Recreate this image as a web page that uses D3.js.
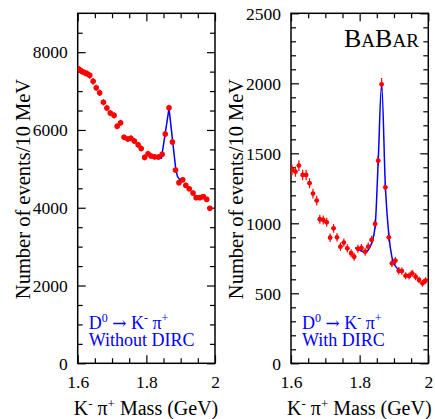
<!DOCTYPE html>
<html>
<head>
<meta charset="utf-8">
<script src="https://cdn.jsdelivr.net/npm/d3@7"></script>
<style>
  html, body { margin: 0; padding: 0; background: #fff; }
  svg { display: block; }
  text { font-family: "Liberation Serif", "Times New Roman", serif; }
</style>
</head>
<body>
<script>
// K- pi+ invariant mass spectra, without and with DIRC kaon identification

// Without DIRC: bin centres (GeV) and counts per 10 MeV
const noDircMass = [1.604,1.613,1.621,1.628,1.635,1.645,1.654,1.664,1.675,1.685,
  1.695,1.706,1.715,1.725,1.735,1.746,1.755,1.765,1.776,1.785,
  1.795,1.805,1.814,1.824,1.835,1.846,1.855,1.866,1.876,1.885,
  1.895,1.906,1.915,1.925,1.936,1.945,1.956,1.966,1.976,1.985];
const noDircCounts = [7560,7505,7470,7445,7405,7250,7085,6955,6710,6565,
  6435,6375,6095,6185,5810,5765,5785,5715,5620,5525,
  5295,5390,5330,5310,5305,5375,5895,6570,5690,4970,
  4645,4720,4575,4490,4380,4260,4260,4285,4215,3985];
const noDircErr = [87,87,86,86,86,85,84,83,82,81,
  80,80,78,79,76,76,76,76,75,74,
  73,73,73,73,73,73,77,81,75,70,
  68,69,68,67,66,65,65,65,65,63];
// Fitted signal + background, without DIRC
const noDircFitMass = [1.805, 1.844, 1.866, 1.886, 1.891, 1.903];
const noDircFitCounts = [5390, 5270, 6555, 4970, 4800, 4655];

// With DIRC: bin centres (GeV) and counts per 10 MeV
const dircMass = [1.603,1.613,1.623,1.634,1.644,1.654,1.664,1.675,1.684,1.694,
  1.704,1.714,1.724,1.734,1.744,1.754,1.764,1.775,1.784,1.795,
  1.805,1.816,1.825,1.835,1.845,1.854,1.864,1.875,1.885,1.894,
  1.904,1.914,1.923,1.934,1.944,1.953,1.963,1.973,1.983,1.992];
const dircCounts = [1381,1369,1412,1345,1345,1286,1212,1162,1029,1024,
  1007,897,964,900,833,862,821,786,761,818,
  824,797,833,881,995,1447,1993,1257,900,714,
  733,661,659,626,624,643,619,595,571,590];
const dircErr = [37,37,38,37,37,36,35,34,32,32,
  32,30,31,30,29,29,29,28,28,29,
  29,28,29,30,32,38,45,35,30,27,
  27,26,26,25,25,25,25,24,24,24];
// Fitted signal + background, with DIRC
const dircFitMass = [1.787, 1.796, 1.806, 1.816, 1.825, 1.835, 1.845, 1.854, 1.864, 1.875, 1.885, 1.894, 1.904, 1.916];
const dircFitCounts = [826, 814, 802, 790, 809, 859, 974, 1440, 1995, 1259, 916, 759, 695, 666];

// Axis ticks
const massTicks = [1.6, 1.8, 2.0];
const massTickLabels = ["1.6", "1.8", "2"];
const noDircYTicks = [0, 2000, 4000, 6000, 8000];
const dircYTicks = [0, 500, 1000, 1500, 2000, 2500];

const W = 435, H = 419;
const frameTop = 13.3, frameBottom = 363.3;
const RED = "#ff0000", BLUE = "#0000ff";

const svg = d3.select("body").append("svg")
  .attr("width", W).attr("height", H);

const panels = [
  { x0: 77.7, x1: 215, yMax: 9000, yMinorStep: 500, yTicks: noDircYTicks,
    mass: noDircMass, counts: noDircCounts, err: noDircErr,
    fitMass: noDircFitMass, fitCounts: noDircFitCounts, curve: d3.curveLinear,
    r: 2.8, label: "Without DIRC", logo: false },
  { x0: 291, x1: 428.3, yMax: 2500, yMinorStep: 100, yTicks: dircYTicks,
    mass: dircMass, counts: dircCounts, err: dircErr,
    fitMass: dircFitMass, fitCounts: dircFitCounts, curve: d3.curveMonotoneX,
    r: 2.4, label: "With DIRC", logo: true }
];

panels.forEach((p, idx) => {
  const x = d3.scaleLinear().domain([1.6, 2.0]).range([p.x0, p.x1]);
  const y = d3.scaleLinear().domain([0, p.yMax]).range([frameBottom, frameTop]);
  const g = svg.append("g");
  const clipId = "clip" + idx;
  svg.append("clipPath").attr("id", clipId).append("rect")
    .attr("x", p.x0).attr("y", frameTop).attr("width", p.x1 - p.x0).attr("height", frameBottom - frameTop);

  const minorX = d3.range(1.6, 2.0001, 0.05).filter(v => !massTicks.some(t => Math.abs(t - v) < 1e-6));
  const minorY = d3.range(0, p.yMax + 1, p.yMinorStep).filter(v => !p.yTicks.includes(v) && v !== p.yMax);

  function styleAxis(sel) {
    sel.select(".domain").remove();
    sel.selectAll("line").attr("stroke", "#000").attr("stroke-width", 1.2);
  }

  // bottom: labelled major ticks
  const bx = g.append("g").attr("transform", `translate(0,${frameBottom})`)
    .call(d3.axisBottom(x).tickValues(massTicks).tickSize(-8)
      .tickFormat((d, i) => massTickLabels[i]));
  styleAxis(bx);
  bx.selectAll("text").attr("y", 24.5).attr("dy", null)
    .attr("font-size", 17.5).attr("fill", "#000").style("font-family", "Liberation Serif");
  g.append("g").attr("transform", `translate(0,${frameBottom})`)
    .call(d3.axisBottom(x).tickValues(minorX).tickSize(-5).tickFormat(""))
    .call(styleAxis);
  // top ticks
  g.append("g").attr("transform", `translate(0,${frameTop})`)
    .call(d3.axisTop(x).tickValues(massTicks).tickSize(-8).tickFormat(""))
    .call(styleAxis);
  g.append("g").attr("transform", `translate(0,${frameTop})`)
    .call(d3.axisTop(x).tickValues(minorX).tickSize(-5).tickFormat(""))
    .call(styleAxis);

  // left: labelled major ticks
  const ly = g.append("g").attr("transform", `translate(${p.x0},0)`)
    .call(d3.axisLeft(y).tickValues(p.yTicks).tickSize(-8).tickPadding(10).tickFormat(d3.format("d")));
  styleAxis(ly);
  ly.selectAll("text").attr("font-size", 17.5).attr("fill", "#000")
    .attr("dy", "0.33em").style("font-family", "Liberation Serif");
  g.append("g").attr("transform", `translate(${p.x0},0)`)
    .call(d3.axisLeft(y).tickValues(minorY).tickSize(-5).tickFormat(""))
    .call(styleAxis);
  // right ticks
  g.append("g").attr("transform", `translate(${p.x1},0)`)
    .call(d3.axisRight(y).tickValues(p.yTicks).tickSize(-8).tickFormat(""))
    .call(styleAxis);
  g.append("g").attr("transform", `translate(${p.x1},0)`)
    .call(d3.axisRight(y).tickValues(minorY).tickSize(-5).tickFormat(""))
    .call(styleAxis);

  // frame
  g.append("rect").attr("x", p.x0).attr("y", frameTop)
    .attr("width", p.x1 - p.x0).attr("height", frameBottom - frameTop)
    .attr("fill", "none").attr("stroke", "#000").attr("stroke-width", 1.5);

  const plot = g.append("g").attr("clip-path", `url(#${clipId})`);
  const pts = p.mass.map((m, i) => ({ m, c: p.counts[i], e: p.err[i] }));

  // error bars
  plot.selectAll("line.ev").data(pts).join("line").attr("class", "ev")
    .attr("x1", d => x(d.m)).attr("x2", d => x(d.m))
    .attr("y1", d => y(d.c - d.e)).attr("y2", d => y(d.c + d.e))
    .attr("stroke", RED).attr("stroke-width", 1.2);
  plot.selectAll("line.eh").data(pts).join("line").attr("class", "eh")
    .attr("x1", d => x(d.m - 0.006)).attr("x2", d => x(d.m + 0.006))
    .attr("y1", d => y(d.c)).attr("y2", d => y(d.c))
    .attr("stroke", RED).attr("stroke-width", 1.2);

  // fit curve
  const fit = p.fitMass.map((m, i) => [m, p.fitCounts[i]]);
  plot.append("path").datum(fit)
    .attr("d", d3.line().x(d => x(d[0])).y(d => y(d[1])).curve(p.curve))
    .attr("fill", "none").attr("stroke", BLUE).attr("stroke-width", 1.5);

  // data points
  plot.selectAll("circle").data(pts).join("circle")
    .attr("cx", d => x(d.m)).attr("cy", d => y(d.c)).attr("r", p.r)
    .attr("fill", RED);

  // y-axis title
  svg.append("text")
    .attr("transform", `translate(${p.x0 - 48},189) rotate(-90)`)
    .attr("text-anchor", "middle").attr("font-size", 20.5).attr("fill", "#000")
    .text("Number of events/10 MeV");

  // x-axis title
  const xt = svg.append("text").attr("x", p.x0 - 4).attr("y", 414.5)
    .attr("font-size", 20).attr("fill", "#000");
  xt.append("tspan").text("K");
  xt.append("tspan").attr("font-size", 13).attr("dy", -7).text("-");
  xt.append("tspan").attr("dy", 7).text(" π");
  xt.append("tspan").attr("font-size", 13).attr("dy", -7).text("+");
  xt.append("tspan").attr("dy", 7).text(" Mass (GeV)");

  // decay channel annotation
  const a1 = svg.append("text").attr("x", p.x0 + 11).attr("y", 328.5)
    .attr("font-size", 18).attr("fill", BLUE);
  a1.append("tspan").text("D");
  a1.append("tspan").attr("font-size", 12).attr("dy", -7).text("0");
  a1.append("tspan").attr("dy", 7).text(" ");
  a1.append("tspan").style("font-family", "DejaVu Serif").attr("font-size", 17).text("→");
  a1.append("tspan").text(" K");
  a1.append("tspan").attr("font-size", 12).attr("dy", -7).text("-");
  a1.append("tspan").attr("dy", 7).text(" π");
  a1.append("tspan").attr("font-size", 12).attr("dy", -7).text("+");
  svg.append("text").attr("x", p.x0 + 11).attr("y", 346)
    .attr("font-size", 18).attr("fill", BLUE).text(p.label);

  if (p.logo) {
    const lg = svg.append("text").attr("x", 344).attr("y", 47.3).attr("fill", "#000");
    lg.append("tspan").attr("font-size", 26).text("B");
    lg.append("tspan").attr("font-size", 19).text("A");
    lg.append("tspan").attr("font-size", 26).text("B");
    lg.append("tspan").attr("font-size", 19).text("AR");
  }
});
</script>
</body>
</html>
